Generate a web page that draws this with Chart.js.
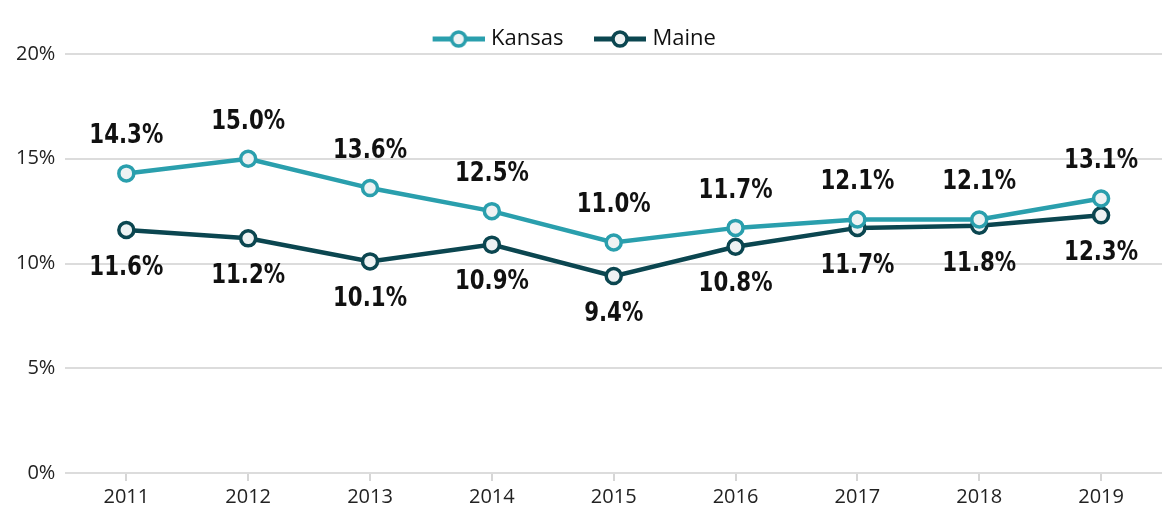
<!DOCTYPE html>
<html>
<head>
<meta charset="utf-8">
<script src="https://cdn.jsdelivr.net/npm/chart.js@4"></script>
<style>
  html, body { margin: 0; padding: 0; background: #fff; }
  .chart-wrap { width: 1173px; height: 515px; position: relative; }
</style>
</head>
<body>
<div class="chart-wrap"><canvas id="rateChart"></canvas></div>
<script>
const years = ['2011', '2012', '2013', '2014', '2015', '2016', '2017', '2018', '2019'];
const kansas = [14.3, 15.0, 13.6, 12.5, 11.0, 11.7, 12.1, 12.1, 13.1];
const maine = [11.6, 11.2, 10.1, 10.9, 9.4, 10.8, 11.7, 11.8, 12.3];
const yTicks = [0, 5, 10, 15, 20];

const KANSAS_COLOR = '#2a9fad';
const MAINE_COLOR = '#0b4650';
const POINT_FILL = '#eef2f3';

// line + hollow circle swatch for the legend (a bit of blank space on the left)
function legendSwatch(color) {
    const c = document.createElement('canvas');
    c.width = 59;
    c.height = 20;
    const g = c.getContext('2d');
    g.strokeStyle = color;
    g.lineWidth = 5;
    g.beginPath();
    g.moveTo(7, 10);
    g.lineTo(59, 10);
    g.stroke();
    g.beginPath();
    g.arc(33, 10, 7, 0, Math.PI * 2);
    g.fillStyle = POINT_FILL;
    g.fill();
    g.lineWidth = 3.5;
    g.stroke();
    return c;
}

// value labels: first series above points, second below (squeezed to look condensed)
const valueLabels = {
    id: 'valueLabels',
    afterDatasetsDraw(chart) {
        const ctx = chart.ctx;
        const squeeze = 0.82;
        ctx.save();
        ctx.font = 'bold 26px "DejaVu Sans", sans-serif';
        ctx.fillStyle = '#111';
        ctx.textAlign = 'center';
        ctx.textBaseline = 'middle';
        chart.data.datasets.forEach((ds, i) => {
            const meta = chart.getDatasetMeta(i);
            const dy = i === 0 ? -37 : 38;
            meta.data.forEach((pt, j) => {
                ctx.save();
                ctx.translate(pt.x, pt.y + dy);
                ctx.scale(squeeze, 1);
                ctx.fillText(ds.data[j].toFixed(1) + '%', 0, 0);
                ctx.restore();
            });
        });
        ctx.restore();
    },
};

// the legend reserves 10px extra below itself; take some back,
// and sit it a little left of centre like the original
const tightLegend = {
    id: 'tightLegend',
    beforeInit(chart) {
        const fit = chart.legend.fit;
        chart.legend.fit = function () {
            fit.call(this);
            this.height -= 6;
        };
    },
    afterLayout(chart) {
        chart.legend.left -= 15;
        chart.legend.right -= 15;
    },
};

function series(label, data, color) {
    return {
        label,
        data,
        borderColor: color,
        backgroundColor: POINT_FILL,
        borderWidth: 4.5,
        pointRadius: 7.5,
        pointHoverRadius: 7.5,
        pointBorderWidth: 3.5,
        pointBackgroundColor: POINT_FILL,
        pointBorderColor: color,
        tension: 0,
    };
}

new Chart(document.querySelector('#rateChart'), {
    type: 'line',
    data: {
        labels: years,
        datasets: [
            series('Kansas', kansas, KANSAS_COLOR),
            series('Maine', maine, MAINE_COLOR),
        ],
    },
    options: {
        responsive: true,
        maintainAspectRatio: false,
        animation: false,
        layout: { padding: { left: 6, right: 3, top: 0, bottom: 2 } },
        scales: {
            x: {
                offset: true,
                grid: { display: true, drawOnChartArea: false, drawTicks: true, tickLength: 8, color: '#d6d6d6', lineWidth: 2 },
                border: { display: false },
                ticks: { color: '#222', font: { size: 20, family: '"Open Sans", sans-serif' }, padding: 4 },
            },
            y: {
                min: 0,
                max: 20,
                afterBuildTicks: (axis) => { axis.ticks = yTicks.map((v) => ({ value: v })); },
                grid: { color: '#dcdcdc', lineWidth: 2, drawTicks: false },
                border: { display: false },
                ticks: {
                    color: '#222',
                    font: { size: 20, family: '"Open Sans", sans-serif' },
                    padding: 10,
                    callback: (v) => v + '%',
                },
            },
        },
        plugins: {
            legend: {
                position: 'top',
                labels: {
                    usePointStyle: true,
                    pointStyleWidth: 50,
                    color: '#111',
                    font: { size: 22, family: '"Open Sans", sans-serif' },
                    padding: 28,
                    generateLabels: (chart) => chart.data.datasets.map((ds, i) => ({
                        text: ds.label,
                        datasetIndex: i,
                        pointStyle: legendSwatch(ds.borderColor),
                        strokeStyle: ds.borderColor,
                        fillStyle: POINT_FILL,
                        lineWidth: 0,
                        fontColor: '#111',
                    })),
                },
            },
            tooltip: { enabled: false },
        },
    },
    plugins: [valueLabels, tightLegend],
});
</script>
</body>
</html>
